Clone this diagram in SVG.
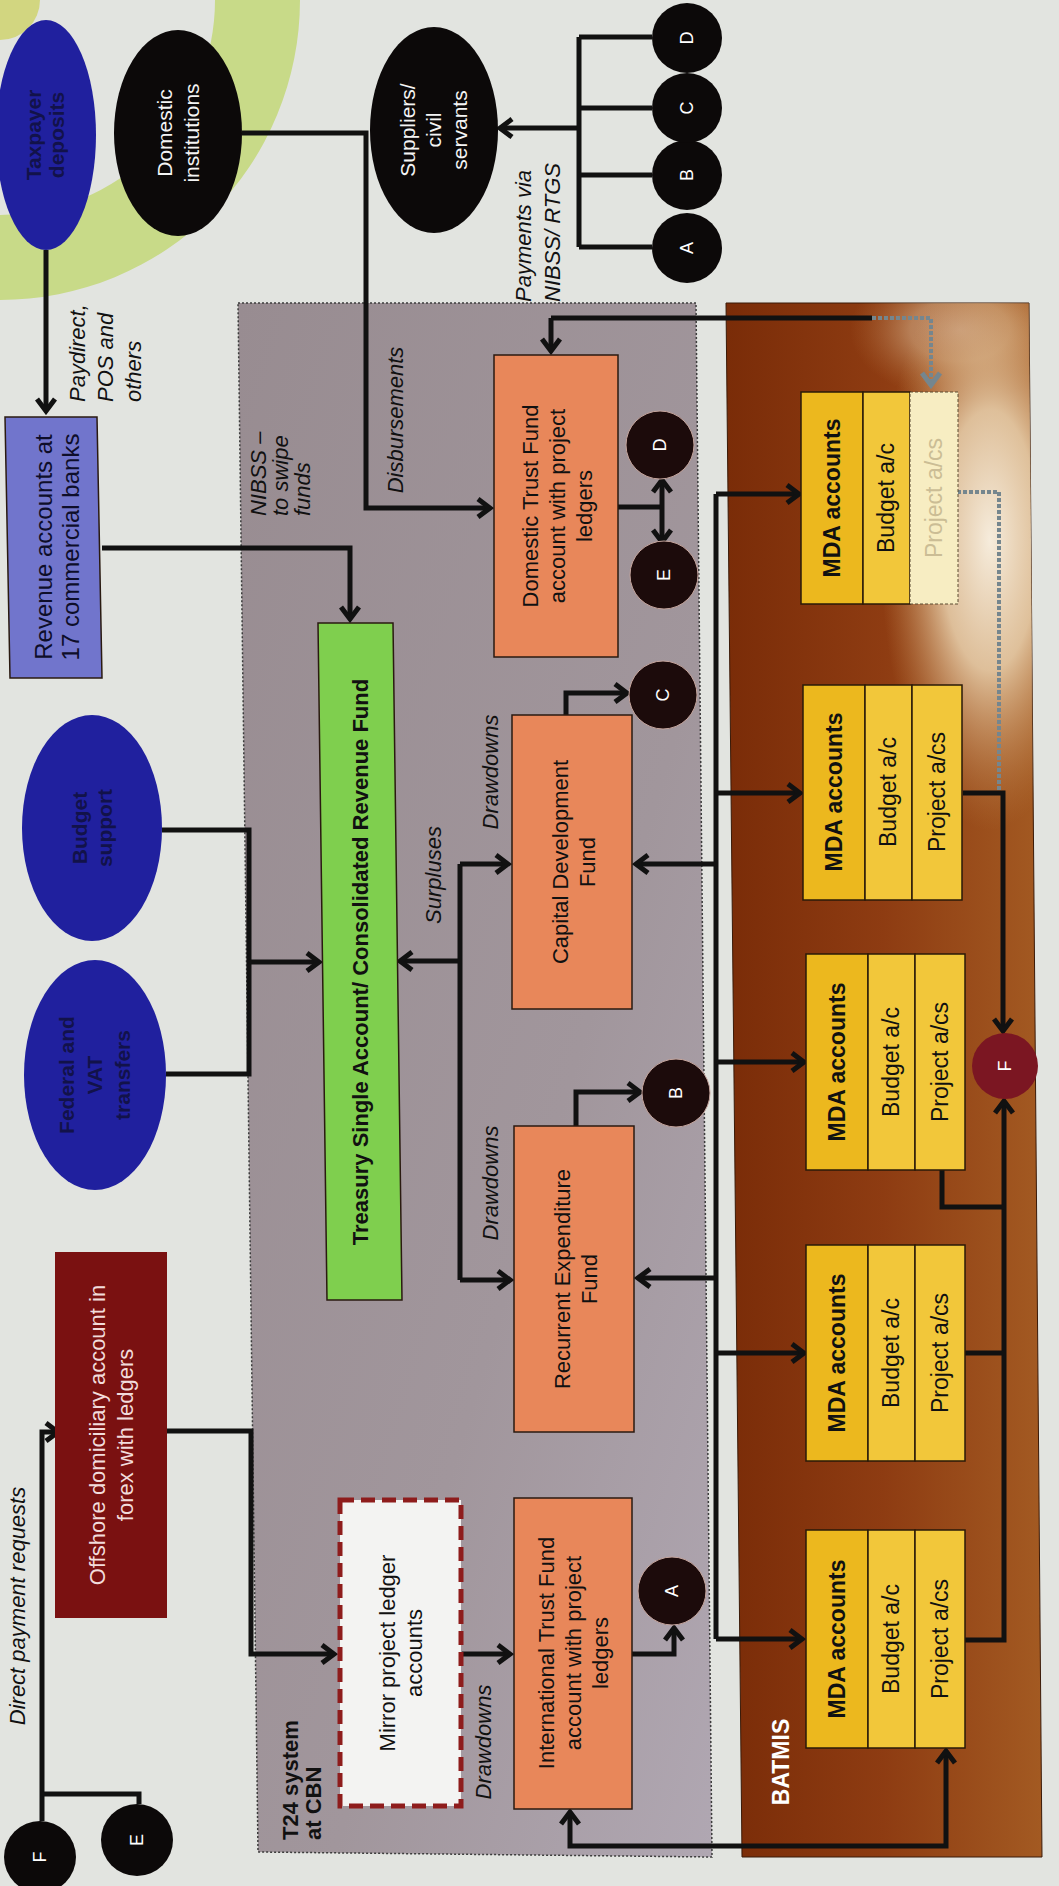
<svg xmlns="http://www.w3.org/2000/svg" width="1059" height="1886" viewBox="0 0 1059 1886">
<defs>
<style>
text{font-family:"Liberation Sans",Arial,sans-serif;}
.c{stroke:#111;stroke-width:5;fill:none;stroke-linejoin:miter;}
.cg{stroke:#75868e;stroke-width:4;fill:none;stroke-dasharray:4,2;}
.a{marker-end:url(#ah);}
.ab{marker-start:url(#ah);marker-end:url(#ah);}
.box{stroke:#2a1a10;stroke-width:1.5;}
.orange{fill:#e8875a;}
.blk{fill:#0c0909;}
.circ{fill:#1c0b0b;stroke:#c4a49c;stroke-width:1;}
.mda1{fill:#ecb81e;stroke:#2a1a08;stroke-width:1.5;}
.mda2{fill:#f2c73a;stroke:#2a1a08;stroke-width:1.5;}
.t22{font-size:22px;fill:#111;}
.t23{font-size:23px;fill:#111;}
.wt{font-size:21px;fill:#f4f4f4;}
.it{font-size:22px;font-style:italic;fill:#111;}
.bt{font-size:22px;font-weight:bold;fill:#111;}
.mt{font-size:23px;font-weight:bold;fill:#111;}
.blue{fill:#20209e;}
.bluet{font-size:21px;font-weight:bold;fill:#12124a;}
.let{font-size:18px;fill:#fff;}
</style>
<marker id="ah" viewBox="0 0 20 24" markerWidth="20" markerHeight="24" refX="16" refY="12" orient="auto-start-reverse" markerUnits="userSpaceOnUse">
<path d="M4,3 L16,12 L4,21" fill="none" stroke="#111" stroke-width="5"/>
</marker>
<marker id="ahg" viewBox="0 0 20 24" markerWidth="20" markerHeight="24" refX="16" refY="12" orient="auto-start-reverse" markerUnits="userSpaceOnUse">
<path d="M4,3 L16,12 L4,21" fill="none" stroke="#75868e" stroke-width="5"/>
</marker>
<linearGradient id="gGrey" x1="0" y1="0" x2="1" y2="1">
<stop offset="0" stop-color="#988c91"/>
<stop offset="0.6" stop-color="#a1969c"/>
<stop offset="1" stop-color="#b0a7b2"/>
</linearGradient>
<linearGradient id="gBrown" x1="0" y1="0" x2="1" y2="0">
<stop offset="0" stop-color="#7a2c08"/>
<stop offset="0.5" stop-color="#8e3c12"/>
<stop offset="1" stop-color="#a35a22"/>
</linearGradient>
<radialGradient id="gGlare" cx="0.5" cy="0.5" r="0.5">
<stop offset="0" stop-color="#f6ecdc" stop-opacity="1"/>
<stop offset="0.45" stop-color="#ead3b0" stop-opacity="0.85"/>
<stop offset="1" stop-color="#c68a50" stop-opacity="0"/>
</radialGradient>
<clipPath id="clipB"><polygon points="726,303 1029,303 1042,1857 742,1857"/></clipPath>
</defs>

<rect width="1059" height="1886" fill="#e2e4e0"/>
<path d="M215,0 A215,215 0 0 1 0,215 L0,300 A300,300 0 0 0 300,0 Z" fill="#c8da88"/>
<path d="M0,0 H40 A40,40 0 0 1 0,40 Z" fill="#d2d680"/>

<g id="t24-panel">
<polygon points="238,303 696,303 712,1857 258,1852" fill="url(#gGrey)" stroke="#3c3c3c" stroke-width="1.5" stroke-dasharray="2,2"/>
<text class="bt" transform="translate(302,1840) rotate(-90)" text-anchor="start" font-size="20"><tspan x="0" y="-4">T24 system</tspan><tspan x="0" y="19">at CBN</tspan></text>
</g>
<g id="batmis-panel">
<polygon points="726,303 1029,303 1042,1857 742,1857" fill="url(#gBrown)" stroke="#3a1a08" stroke-width="1"/>
<g clip-path="url(#clipB)">
<ellipse cx="960" cy="330" rx="110" ry="70" fill="url(#gGlare)" opacity="0.5"/>
<ellipse cx="990" cy="540" rx="110" ry="290" fill="url(#gGlare)"/>
</g>
<text transform="translate(781,1762) rotate(-90)" text-anchor="middle" font-size="23" font-weight="bold" fill="#fff"><tspan x="0" y="8">BATMIS</tspan></text>
</g>

<g id="connectors">
<path class="c a" d="M46,250 V411"/>
<path class="c a" d="M242,133 H366 V508 H490"/>
<path class="c a" d="M102,548 H350 V619"/>
<path class="c" d="M162,830 H249 V1074 H166"/>
<path class="c a" d="M249,962 H319"/>
<path class="c a" d="M579,128 H500"/>
<path class="c" d="M579,37 V247 M579,37 H652 M579,108 H652 M579,175 H652 M579,247 H652"/>
<path class="c" d="M618,507 H662"/>
<path class="c ab" d="M662,542 V480"/>
<path class="c" d="M551,318 H872"/>
<path class="c a" d="M551,318 V351"/>
<path class="cg" d="M872,318 H931 V385" marker-end="url(#ahg)"/>
<path class="c" d="M460,864 V1280"/>
<path class="c a" d="M460,864 H508"/>
<path class="c a" d="M460,1280 H510"/>
<path class="c a" d="M460,961 H400"/>
<path class="c a" d="M566,715 V693 H627"/>
<path class="c a" d="M576,1126 V1092 H640"/>
<path class="c" d="M716,494 V1639"/>
<path class="c a" d="M716,494 H799"/>
<path class="c a" d="M716,793 H800"/>
<path class="c a" d="M716,1062 H804"/>
<path class="c a" d="M716,1353 H804"/>
<path class="c a" d="M716,1639 H802"/>
<path class="c a" d="M716,864 H636"/>
<path class="c a" d="M716,1278 H638"/>
<path class="c a" d="M167,1431 H251 V1654 H334"/>
<path class="c a" d="M462,1654 H510"/>
<path class="c a" d="M632,1654 H674 V1628"/>
<path class="c ab" d="M570,1812 V1846 H946 V1751"/>
<path class="c a" d="M963,1640 H1004 V1101"/>
<path class="c" d="M965,1353 H1004"/>
<path class="c" d="M942,1170 V1207 H1004"/>
<path class="c a" d="M963,793 H1003 V1031"/>
<path class="cg" d="M957,492 H999 V790"/>
<path class="c a" d="M42,1821 V1432 H58"/>
<path class="c" d="M139,1804 V1794 H42"/>
</g>

<g id="labels">
<text class="it" transform="translate(105,402) rotate(-90)" text-anchor="start"><tspan x="0" y="-20">Paydirect,</tspan><tspan x="0" y="8">POS and</tspan><tspan x="0" y="36">others</tspan></text>
<text class="it" transform="translate(395,420) rotate(-90)" text-anchor="middle"><tspan x="0" y="8">Disbursements</tspan></text>
<text class="it" transform="translate(281,516) rotate(-90)" text-anchor="start" font-size="20"><tspan x="0" y="-15">NIBSS –</tspan><tspan x="0" y="7">to swipe</tspan><tspan x="0" y="29">funds</tspan></text>
<text class="it" transform="translate(538,302) rotate(-90)" text-anchor="start" font-size="23"><tspan x="0" y="-7">Payments via</tspan><tspan x="0" y="22">NIBSS/ RTGS</tspan></text>
<text class="it" transform="translate(433,875) rotate(-90)" text-anchor="middle"><tspan x="0" y="8">Surpluses</tspan></text>
<text class="it" transform="translate(490,772) rotate(-90)" text-anchor="middle"><tspan x="0" y="8">Drawdowns</tspan></text>
<text class="it" transform="translate(490,1183) rotate(-90)" text-anchor="middle"><tspan x="0" y="8">Drawdowns</tspan></text>
<text class="it" transform="translate(483,1742) rotate(-90)" text-anchor="middle"><tspan x="0" y="8">Drawdowns</tspan></text>
<text class="it" transform="translate(17,1606) rotate(-90)" text-anchor="middle" font-size="24"><tspan x="0" y="8">Direct payment requests</tspan></text>
</g>

<g id="taxpayer">
<ellipse class="blue" cx="46" cy="135" rx="50" ry="115"/>
<text class="bluet" transform="translate(46,135) rotate(-90)" text-anchor="middle" font-size="20"><tspan x="0" y="-5">Taxpayer</tspan><tspan x="0" y="18">deposits</tspan></text>
</g>
<g id="domestic-institutions">
<ellipse class="blk" cx="178" cy="133" rx="64" ry="103"/>
<text class="wt" transform="translate(178,133) rotate(-90)" text-anchor="middle"><tspan x="0" y="-6">Domestic</tspan><tspan x="0" y="21">institutions</tspan></text>
</g>
<g id="suppliers">
<ellipse class="blk" cx="434" cy="130" rx="64" ry="103"/>
<text class="wt" transform="translate(434,130) rotate(-90)" text-anchor="middle"><tspan x="0" y="-19">Suppliers/</tspan><tspan x="0" y="7">civil</tspan><tspan x="0" y="33">servants</tspan></text>
</g>
<g id="bus-a"><circle class="blk" cx="687" cy="248" r="35"/><text class="let" transform="translate(687,248) rotate(-90)" text-anchor="middle" y="6">A</text></g>
<g id="bus-b"><circle class="blk" cx="687" cy="175" r="35"/><text class="let" transform="translate(687,175) rotate(-90)" text-anchor="middle" y="6">B</text></g>
<g id="bus-c"><circle class="blk" cx="687" cy="108" r="35"/><text class="let" transform="translate(687,108) rotate(-90)" text-anchor="middle" y="6">C</text></g>
<g id="bus-d"><circle class="blk" cx="687" cy="38" r="35"/><text class="let" transform="translate(687,38) rotate(-90)" text-anchor="middle" y="6">D</text></g>

<g id="revenue-accounts">
<polygon class="box" points="5,417 97,417 102,678 10,678" fill="#7175cc"/>
<text transform="translate(57,547) rotate(-90)" text-anchor="middle" font-size="24" fill="#0e0e2a"><tspan x="0" y="-5">Revenue accounts at</tspan><tspan x="0" y="22">17 commercial banks</tspan></text>
</g>
<g id="budget-support">
<ellipse class="blue" cx="92" cy="828" rx="70" ry="113"/>
<text class="bluet" transform="translate(92,828) rotate(-90)" text-anchor="middle"><tspan x="0" y="-5">Budget</tspan><tspan x="0" y="20">support</tspan></text>
</g>
<g id="federal-vat">
<ellipse class="blue" cx="95" cy="1075" rx="71" ry="115"/>
<text class="bluet" transform="translate(95,1075) rotate(-90)" text-anchor="middle"><tspan x="0" y="-21">Federal and</tspan><tspan x="0" y="7">VAT</tspan><tspan x="0" y="35">transfers</tspan></text>
</g>
<g id="offshore">
<rect x="55" y="1252" width="112" height="366" fill="#7a1111"/>
<text transform="translate(111,1435) rotate(-90)" text-anchor="middle" font-size="22" fill="#f2dcdc"><tspan x="0" y="-6">Offshore domiciliary account in</tspan><tspan x="0" y="22">forex with ledgers</tspan></text>
</g>
<g id="e-left"><circle class="blk" cx="137" cy="1840" r="36"/><text class="let" transform="translate(137,1840) rotate(-90)" text-anchor="middle" y="6">E</text></g>
<g id="f-left"><circle class="blk" cx="40" cy="1857" r="36"/><text class="let" transform="translate(40,1857) rotate(-90)" text-anchor="middle" y="6">F</text></g>

<g id="tsa">
<polygon class="box" points="318,623 393,623 402,1300 327,1300" fill="#7fcf4e"/>
<text class="bt" transform="translate(360,962) rotate(-90)" text-anchor="middle" font-size="23"><tspan x="0" y="8">Treasury Single Account/ Consolidated Revenue Fund</tspan></text>
</g>
<g id="domestic-trust-fund">
<rect class="box orange" x="494" y="355" width="124" height="302"/>
<text class="t22" transform="translate(557,506) rotate(-90)" text-anchor="middle"><tspan x="0" y="-19">Domestic Trust Fund</tspan><tspan x="0" y="8">account with project</tspan><tspan x="0" y="35">ledgers</tspan></text>
</g>
<g id="capital-development-fund">
<rect class="box orange" x="512" y="715" width="120" height="294"/>
<text class="t22" transform="translate(574,862) rotate(-90)" text-anchor="middle"><tspan x="0" y="-6">Capital Development</tspan><tspan x="0" y="21">Fund</tspan></text>
</g>
<g id="recurrent-expenditure-fund">
<rect class="box orange" x="514" y="1126" width="120" height="306"/>
<text class="t22" transform="translate(576,1279) rotate(-90)" text-anchor="middle"><tspan x="0" y="-6">Recurrent Expenditure</tspan><tspan x="0" y="21">Fund</tspan></text>
</g>
<g id="international-trust-fund">
<rect class="box orange" x="514" y="1498" width="118" height="311"/>
<text class="t22" transform="translate(573,1653) rotate(-90)" text-anchor="middle"><tspan x="0" y="-19">International Trust Fund</tspan><tspan x="0" y="8">account with project</tspan><tspan x="0" y="35">ledgers</tspan></text>
</g>
<g id="mirror-accounts">
<rect x="340" y="1500" width="121" height="306" fill="#f3f3f2" stroke="#8e1c1c" stroke-width="5" stroke-dasharray="14,7"/>
<text class="t22" transform="translate(401,1653) rotate(-90)" text-anchor="middle"><tspan x="0" y="-6">Mirror project ledger</tspan><tspan x="0" y="21">accounts</tspan></text>
</g>
<g id="node-a"><circle class="circ" cx="672" cy="1591" r="34"/><text class="let" transform="translate(672,1591) rotate(-90)" text-anchor="middle" y="6">A</text></g>
<g id="node-b"><circle class="circ" cx="676" cy="1093" r="34"/><text class="let" transform="translate(676,1093) rotate(-90)" text-anchor="middle" y="6">B</text></g>
<g id="node-c"><circle class="circ" cx="663" cy="695" r="34"/><text class="let" transform="translate(663,695) rotate(-90)" text-anchor="middle" y="6">C</text></g>
<g id="node-d"><circle class="circ" cx="660" cy="445" r="34"/><text class="let" transform="translate(660,445) rotate(-90)" text-anchor="middle" y="6">D</text></g>
<g id="node-e"><circle class="circ" cx="664" cy="575" r="34"/><text class="let" transform="translate(664,575) rotate(-90)" text-anchor="middle" y="6">E</text></g>

<g id="mda-1">
<rect class="mda1" x="806" y="1530" width="62" height="218"/><rect class="mda2" x="868" y="1530" width="47" height="218"/><rect class="mda2" x="915" y="1530" width="50" height="218"/>
<text class="mt" transform="translate(837,1639) rotate(-90)" text-anchor="middle" y="8">MDA accounts</text>
<text class="t23" transform="translate(891,1639) rotate(-90)" text-anchor="middle" y="8">Budget a/c</text>
<text class="t23" transform="translate(940,1639) rotate(-90)" text-anchor="middle" y="8">Project a/cs</text>
</g>
<g id="mda-2">
<rect class="mda1" x="806" y="1245" width="62" height="216"/><rect class="mda2" x="868" y="1245" width="47" height="216"/><rect class="mda2" x="915" y="1245" width="50" height="216"/>
<text class="mt" transform="translate(837,1353) rotate(-90)" text-anchor="middle" y="8">MDA accounts</text>
<text class="t23" transform="translate(891,1353) rotate(-90)" text-anchor="middle" y="8">Budget a/c</text>
<text class="t23" transform="translate(940,1353) rotate(-90)" text-anchor="middle" y="8">Project a/cs</text>
</g>
<g id="mda-3">
<rect class="mda1" x="806" y="954" width="62" height="216"/><rect class="mda2" x="868" y="954" width="47" height="216"/><rect class="mda2" x="915" y="954" width="50" height="216"/>
<text class="mt" transform="translate(837,1062) rotate(-90)" text-anchor="middle" y="8">MDA accounts</text>
<text class="t23" transform="translate(891,1062) rotate(-90)" text-anchor="middle" y="8">Budget a/c</text>
<text class="t23" transform="translate(940,1062) rotate(-90)" text-anchor="middle" y="8">Project a/cs</text>
</g>
<g id="mda-4">
<rect class="mda1" x="803" y="685" width="62" height="215"/><rect class="mda2" x="865" y="685" width="47" height="215"/><rect class="mda2" x="912" y="685" width="50" height="215"/>
<text class="mt" transform="translate(834,792) rotate(-90)" text-anchor="middle" y="8">MDA accounts</text>
<text class="t23" transform="translate(888,792) rotate(-90)" text-anchor="middle" y="8">Budget a/c</text>
<text class="t23" transform="translate(937,792) rotate(-90)" text-anchor="middle" y="8">Project a/cs</text>
</g>
<g id="mda-5">
<rect class="mda1" x="801" y="392" width="62" height="212"/><rect class="mda2" x="863" y="392" width="47" height="212"/><rect x="910" y="392" width="48" height="212" fill="#f7edc2" stroke="#5a4a30" stroke-width="1" stroke-dasharray="3,2"/>
<text class="mt" transform="translate(832,498) rotate(-90)" text-anchor="middle" y="8">MDA accounts</text>
<text class="t23" transform="translate(886,498) rotate(-90)" text-anchor="middle" y="8">Budget a/c</text>
<text transform="translate(934,498) rotate(-90)" text-anchor="middle" y="8" font-size="23" fill="#cbbd95">Project a/cs</text>
</g>
<g id="node-f"><circle cx="1005" cy="1066" r="33" fill="#7b1622"/><text class="let" transform="translate(1005,1066) rotate(-90)" text-anchor="middle" y="6">F</text></g>
</svg>
